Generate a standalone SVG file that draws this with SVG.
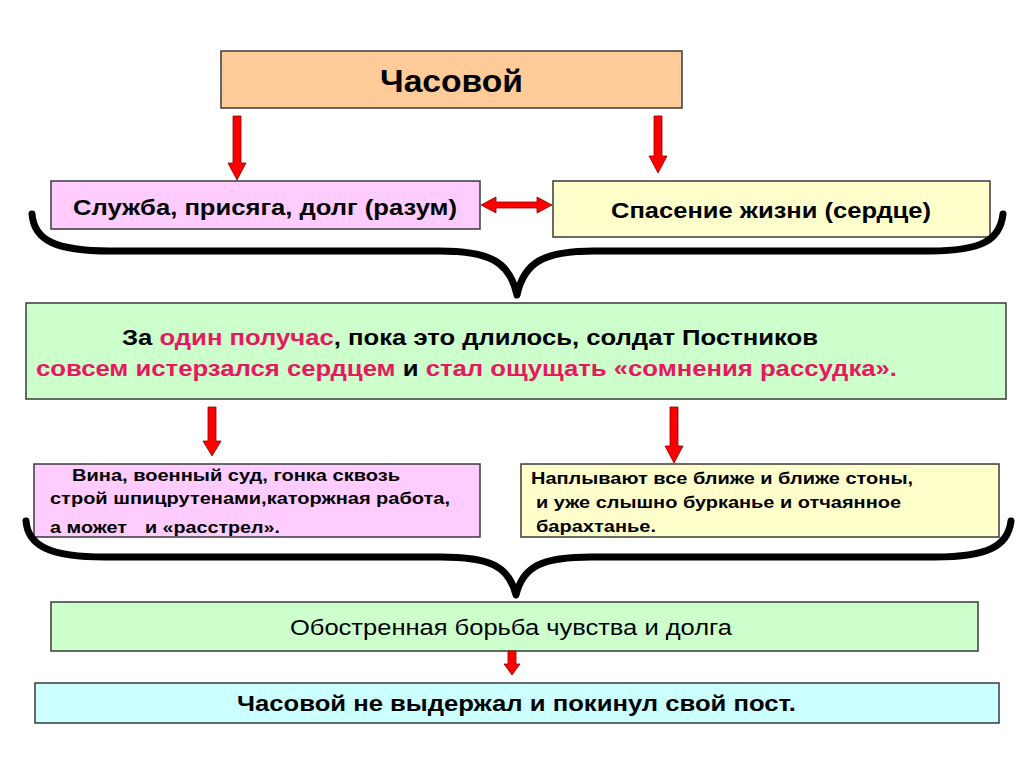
<svg xmlns="http://www.w3.org/2000/svg" width="1024" height="767" viewBox="0 0 1024 767">
<style>
.box{stroke:#3a3a3a;stroke-width:1.5}
.b{font-family:"Liberation Sans",Arial,sans-serif;font-weight:bold;fill:#000}
.r{font-family:"Liberation Sans",Arial,sans-serif;fill:#000}
.red{fill:#E8185E}
.arr{fill:#FF0000;stroke:#8B0000;stroke-width:0.8}
.brace{fill:none;stroke:#000;stroke-width:7;stroke-linecap:round;stroke-linejoin:round}
</style>
<rect width="1024" height="767" fill="#fff"/>
<g id="n-chasovoy">
<rect class="box" x="221" y="51" width="461" height="57" fill="#FFCC99"/>
<text class="b" x="380" y="92" font-size="32" textLength="143" lengthAdjust="spacingAndGlyphs">Часовой</text>
</g>
<g id="n-sluzhba">
<rect class="box" x="51" y="181" width="429" height="48" fill="#FFCCFF"/>
<text class="b" x="73" y="215" font-size="22" textLength="384" lengthAdjust="spacingAndGlyphs">Служба, присяга, долг (разум)</text>
</g>
<g id="n-spasenie">
<rect class="box" x="553" y="181" width="437" height="56" fill="#FFFFCC"/>
<text class="b" x="611" y="218" font-size="22" textLength="320" lengthAdjust="spacingAndGlyphs">Спасение жизни (сердце)</text>
</g>
<g id="n-poluchas">
<rect class="box" x="26" y="303" width="980" height="96" fill="#CCFFCC"/>
<text class="b" x="122" y="345" font-size="22" textLength="696" lengthAdjust="spacingAndGlyphs">За <tspan class="red">один получас</tspan>, пока это длилось, солдат Постников</text>
<text class="b" x="36" y="376" font-size="22" textLength="861" lengthAdjust="spacingAndGlyphs"><tspan class="red">совсем истерзался сердцем</tspan> и <tspan class="red">стал ощущать «сомнения рассудка».</tspan></text>
</g>
<g id="n-vina">
<rect class="box" x="34" y="464" width="446" height="73" fill="#FFCCFF"/>
<text class="b" x="72" y="481" font-size="17" textLength="328" lengthAdjust="spacingAndGlyphs">Вина, военный суд, гонка сквозь</text>
<text class="b" x="50" y="504" font-size="17" textLength="400" lengthAdjust="spacingAndGlyphs">строй шпицрутенами,каторжная работа,</text>
<text class="b" x="50" y="533" font-size="17" textLength="77" lengthAdjust="spacingAndGlyphs">а может</text>
<text class="b" x="145" y="533" font-size="17" textLength="135" lengthAdjust="spacingAndGlyphs">и «расстрел».</text>
</g>
<g id="n-stony">
<rect class="box" x="521" y="464" width="478" height="73" fill="#FFFFCC"/>
<text class="b" x="531" y="484" font-size="17" textLength="382" lengthAdjust="spacingAndGlyphs">Наплывают все ближе и ближе стоны,</text>
<text class="b" x="536" y="508" font-size="17" textLength="365" lengthAdjust="spacingAndGlyphs">и уже слышно бурканье и отчаянное</text>
<text class="b" x="536" y="532" font-size="17" textLength="120" lengthAdjust="spacingAndGlyphs">барахтанье.</text>
</g>
<g id="n-borba">
<rect class="box" x="51" y="602" width="927" height="49" fill="#CCFFCC"/>
<text class="r" x="290" y="635" font-size="22" textLength="442" lengthAdjust="spacingAndGlyphs">Обостренная борьба чувства и долга</text>
</g>
<g id="n-post">
<rect class="box" x="35" y="683" width="964" height="40" fill="#CCFFFF"/>
<text class="b" x="237" y="711" font-size="22" textLength="559" lengthAdjust="spacingAndGlyphs">Часовой не выдержал и покинул свой пост.</text>
</g>
<g id="connectors">
<polygon class="arr" points="233,116 241,116 241,163 246,163 237,180 228,163 233,163"/>
<polygon class="arr" points="654,116 662,116 662,156 667,156 658,173 649,156 654,156"/>
<polygon class="arr" points="481,205 496,197 496,202 537,202 537,197 552,205 537,213 537,208 496,208 496,213"/>
<polygon class="arr" points="208,407 216,407 216,441 221,441 212,456 203,441 208,441"/>
<polygon class="arr" points="670,407 678,407 678,446 683,446 674,463 665,446 670,446"/>
<polygon class="arr" points="508,651 516,651 516,664 520,664 512,675 504,664 508,664"/>
<path class="brace" d="M32,214 C34,240 55,251 110,251 L440,251 C490,251 510,262 517,295 C524,262 544,251 594,251 L930,251 C982,251 1000,240 1003,214"/>
<path class="brace" d="M26,521 C28,546 50,557 105,557 L440,557 C490,557 509,566 516,595 C523,566 542,557 592,557 L935,557 C988,557 1008,546 1011,521"/>
</g>
</svg>
